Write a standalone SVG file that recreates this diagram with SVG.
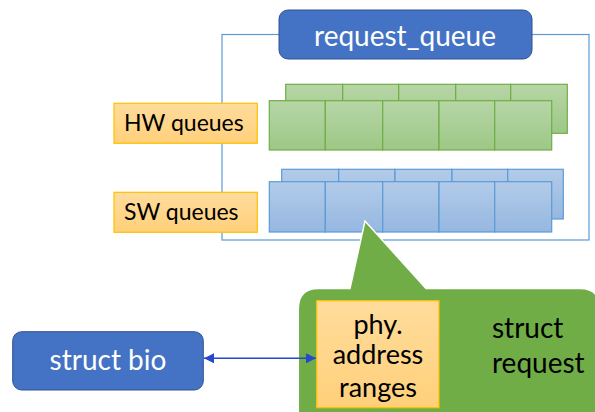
<svg xmlns="http://www.w3.org/2000/svg" width="595" height="412" viewBox="0 0 595 412">
<defs>
<linearGradient id="gG" x1="0" y1="0" x2="0" y2="1"><stop offset="0" stop-color="#B7D6A6"/><stop offset="1" stop-color="#9CC886"/></linearGradient>
<linearGradient id="gB" x1="0" y1="0" x2="0" y2="1"><stop offset="0" stop-color="#B3CBE9"/><stop offset="1" stop-color="#95B7E0"/></linearGradient>
<linearGradient id="gO" x1="0" y1="0" x2="0" y2="1"><stop offset="0" stop-color="#FFDC9C"/><stop offset="1" stop-color="#FFD07A"/></linearGradient>
<marker id="ah" viewBox="0 0 10 10" refX="10" refY="5" markerWidth="10" markerHeight="10" markerUnits="userSpaceOnUse" orient="auto-start-reverse"><path d="M0,0 L10,5 L0,10 z" fill="#2548CC"/></marker>
<style>
.t{font-family:Lato,"Liberation Sans",sans-serif}
.g{fill:url(#gG);stroke:#70AD47;stroke-width:1.2}
.b{fill:url(#gB);stroke:#5B9BD5;stroke-width:1.2}
.o{fill:url(#gO);stroke:#FFC000;stroke-width:1.2}
.blue{fill:#4472C4;stroke:#2F528F;stroke-width:1}
</style>
</defs>
<g id="frame"><rect x="222" y="34.5" width="367" height="205.5" fill="none" stroke="#5B9BD5" stroke-width="1.2"/></g>
<g id="request_queue">
<rect class="blue" x="279" y="10" width="253" height="49" rx="9"/>
<text class="t" x="405" y="46" font-size="28" fill="#fff" text-anchor="middle">request_queue</text>
</g>
<g id="hw_cells">
<rect class="g" x="285.7" y="84.3" width="57" height="49"/>
<rect class="g" x="342.7" y="84.3" width="56" height="49"/>
<rect class="g" x="398.7" y="84.3" width="57" height="49"/>
<rect class="g" x="455.7" y="84.3" width="55" height="49"/>
<rect class="g" x="510.7" y="84.3" width="56.6" height="49"/>
<rect class="g" x="269.3" y="100.7" width="56" height="49.3"/>
<rect class="g" x="325.3" y="100.7" width="57.4" height="49.3"/>
<rect class="g" x="382.7" y="100.7" width="56.3" height="49.3"/>
<rect class="g" x="439" y="100.7" width="55.7" height="49.3"/>
<rect class="g" x="494.7" y="100.7" width="57" height="49.3"/>
</g>
<g id="sw_cells">
<rect class="b" x="281.7" y="169.3" width="57" height="49.7"/>
<rect class="b" x="338.7" y="169.3" width="56.3" height="49.7"/>
<rect class="b" x="395" y="169.3" width="57" height="49.7"/>
<rect class="b" x="452" y="169.3" width="55.7" height="49.7"/>
<rect class="b" x="507.7" y="169.3" width="55.6" height="49.7"/>
<rect class="b" x="269.3" y="181.7" width="56" height="50.3"/>
<rect class="b" x="325.3" y="181.7" width="57.4" height="50.3"/>
<rect class="b" x="382.7" y="181.7" width="56.3" height="50.3"/>
<rect class="b" x="439" y="181.7" width="55.7" height="50.3"/>
<rect class="b" x="494.7" y="181.7" width="57" height="50.3"/>
</g>
<g id="hw_queues">
<rect class="o" x="114" y="103.3" width="143.3" height="40"/>
<text class="t" x="124" y="131" font-size="23" fill="#000">HW queues</text>
</g>
<g id="sw_queues">
<rect class="o" x="114" y="192.3" width="143.3" height="40"/>
<text class="t" x="124" y="220" font-size="23" fill="#000">SW queues</text>
</g>
<g id="struct_request">
<path d="M298.3,413 V309 Q298.3,288.5 318.3,288.5 H350 L365,221 L426,288.5 H580 Q600,288.5 600,309 V413 Z" fill="#70AD47" stroke="#fff" stroke-width="1.5"/>
<text class="t" font-size="28" fill="#000"><tspan x="492" y="338">struct</tspan><tspan x="492" y="373">request</tspan></text>
</g>
<g id="phy_ranges">
<rect class="o" x="316.7" y="300.7" width="122.3" height="107"/>
<text class="t" font-size="27" fill="#000" text-anchor="middle"><tspan x="378" y="334">phy.</tspan><tspan x="378" y="364">address</tspan><tspan x="378" y="397">ranges</tspan></text>
</g>
<g id="struct_bio">
<rect class="blue" x="12.7" y="331.7" width="190.6" height="58.3" rx="9"/>
<text class="t" x="108" y="370" font-size="28" fill="#fff" text-anchor="middle">struct bio</text>
</g>
<g id="connectors">
<line x1="204" y1="358.3" x2="316" y2="358.3" stroke="#2548CC" stroke-width="1.5" marker-start="url(#ah)" marker-end="url(#ah)"/>
</g>
</svg>
